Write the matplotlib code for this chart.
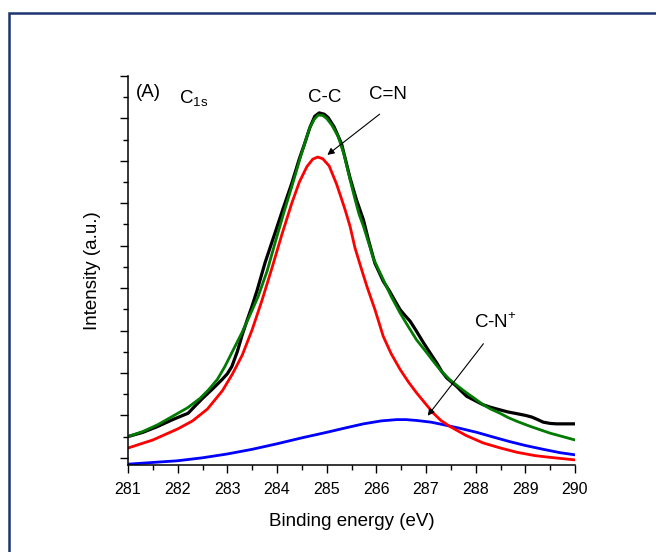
import matplotlib
matplotlib.use("Agg")
import matplotlib.pyplot as plt
from matplotlib.patches import Rectangle
from matplotlib.ticker import MultipleLocator

plt.rcParams['font.family'] = ['Liberation Sans', 'DejaVu Sans']

# Experimental data (black)
data_x = [281.00, 281.30, 281.60, 281.90, 282.21, 282.35, 282.50, 282.70, 282.89, 283.00,
          283.09, 283.20, 283.30, 283.40, 283.49, 283.60, 283.76, 283.96, 284.13, 284.30,
          284.45, 284.56, 284.66, 284.76, 284.85, 284.95, 285.03, 285.15, 285.30, 285.47,
          285.60, 285.74, 285.84, 285.97, 286.14, 286.27, 286.40, 286.48, 286.58, 286.68,
          286.80, 286.95, 287.10, 287.22, 287.32, 287.42, 287.52, 287.62, 287.72, 287.82,
          288.00, 288.15, 288.30, 288.49, 288.65, 288.83, 289.00, 289.13, 289.25, 289.36,
          289.50, 289.63, 290.00]
data_y = [0.50, 0.60, 0.74, 0.90, 1.05, 1.22, 1.40, 1.62, 1.84, 1.98,
          2.15, 2.50, 2.90, 3.25, 3.55, 3.95, 4.60, 5.30, 5.90, 6.48,
          7.05, 7.42, 7.78, 8.05, 8.13, 8.10, 8.02, 7.80, 7.40, 6.60,
          6.08, 5.61, 5.14, 4.59, 4.16, 3.92, 3.65, 3.49, 3.35, 3.22,
          3.00, 2.71, 2.44, 2.23, 2.03, 1.88, 1.78, 1.68, 1.56, 1.45,
          1.34, 1.25, 1.19, 1.13, 1.08, 1.04, 1.00, 0.96, 0.90, 0.84,
          0.81, 0.80, 0.80]

# Fit envelope (green)
fit_x = [281.00, 281.30, 281.60, 281.90, 282.20, 282.45, 282.62, 282.80, 282.95, 283.10,
         283.29, 283.45, 283.62, 283.80, 283.96, 284.13, 284.30, 284.45, 284.56, 284.66,
         284.75, 284.83, 284.92, 285.00, 285.10, 285.23, 285.35, 285.47, 285.57, 285.65,
         285.74, 285.85, 285.94, 286.05, 286.14, 286.30, 286.48, 286.65, 286.81, 287.00,
         287.15, 287.30, 287.48, 287.65, 287.82, 288.00, 288.15, 288.30, 288.49, 288.65,
         288.83, 289.10, 289.30, 289.50, 289.75, 290.00]
fit_y = [0.50, 0.62, 0.78, 0.98, 1.18, 1.40, 1.60, 1.85, 2.15, 2.50,
         2.94, 3.35, 3.80, 4.40, 5.06, 5.75, 6.40, 7.00, 7.42, 7.78,
         7.98, 8.08, 8.07, 8.00, 7.85, 7.58, 7.15, 6.56, 6.10, 5.75,
         5.46, 5.05, 4.70, 4.42, 4.20, 3.80, 3.41, 3.08, 2.78, 2.50,
         2.27, 2.05, 1.84, 1.68, 1.53, 1.38, 1.25, 1.15, 1.05, 0.95,
         0.86, 0.74, 0.66, 0.58, 0.50, 0.42]

# C=N component (red)
cn_x = [281.00, 281.50, 282.00, 282.30, 282.60, 282.90, 283.10, 283.30, 283.50, 283.70,
        283.90, 284.10, 284.30, 284.45, 284.60, 284.72, 284.82, 284.92, 285.05, 285.20,
        285.30, 285.37, 285.47, 285.57, 285.70, 285.81, 285.97, 286.14, 286.30, 286.48,
        286.65, 286.81, 287.00, 287.15, 287.30, 287.48, 287.80, 288.15, 288.50, 288.83,
        289.20, 289.50, 290.00]
cn_y = [0.23, 0.42, 0.68, 0.87, 1.15, 1.58, 1.97, 2.42, 3.02, 3.72,
        4.48, 5.27, 6.01, 6.50, 6.86, 7.04, 7.09, 7.05, 6.88, 6.45,
        6.10, 5.85, 5.46, 4.95, 4.45, 4.04, 3.50, 2.86, 2.45, 2.08,
        1.78, 1.53, 1.26, 1.05, 0.88, 0.74, 0.53, 0.35, 0.23, 0.13,
        0.05, 0.01, -0.05]

# C-N+ component (blue)
cnp_x = [281.00, 281.50, 282.00, 282.50, 283.00, 283.50, 284.00, 284.50, 285.00, 285.40,
         285.74, 286.10, 286.41, 286.60, 286.81, 287.10, 287.35, 287.70, 288.02, 288.35,
         288.69, 289.00, 289.36, 289.70, 290.00]
cnp_y = [-0.15, -0.11, -0.07, 0.00, 0.09, 0.20, 0.33, 0.47, 0.60, 0.71,
         0.80, 0.87, 0.90, 0.90, 0.88, 0.84, 0.78, 0.69, 0.60, 0.49,
         0.38, 0.29, 0.20, 0.12, 0.07]

x_ticks = [281, 282, 283, 284, 285, 286, 287, 288, 289, 290]

fig = plt.figure(figsize=(6.56, 5.52), dpi=100)
fig.patches.append(Rectangle((9/656, -0.1), 1.2, 1 - 13/552 + 0.1, transform=fig.transFigure,
                             fill=False, edgecolor='#1c3570', linewidth=1.8))
ax = fig.add_axes([128/656, 87/552, 447/656, 389/552])

lw = 2.0
ax.plot(cnp_x, cnp_y, color='#0000ff', lw=lw)
ax.plot(cn_x, cn_y, color='#ff0000', lw=lw)
ax.plot(data_x, data_y, color='black', lw=lw + 0.3)
ax.plot(fit_x, fit_y, color='#007a00', lw=lw)

ax.set_xlim(281, 290)
ax.set_ylim(-0.17, 9.0)
ax.set_xticks(x_ticks)
ax.set_xticklabels([str(t) for t in x_ticks])
ax.xaxis.set_minor_locator(MultipleLocator(0.5))
ax.yaxis.set_major_locator(MultipleLocator(1))
ax.yaxis.set_minor_locator(MultipleLocator(0.5))
ax.set_yticklabels([])
ax.tick_params(axis='both', which='major', direction='out', length=6, width=1, labelsize=11.5)
ax.tick_params(axis='both', which='minor', direction='out', length=3.5, width=1)
ax.tick_params(axis='x', pad=6)
for s in ['top', 'right']:
    ax.spines[s].set_visible(False)
for s in ['left', 'bottom']:
    ax.spines[s].set_linewidth(1.1)

ax.set_xlabel('Binding energy (eV)', fontsize=13.5, labelpad=12)
ax.set_ylabel('Intensity (a.u.)', fontsize=13.5, labelpad=10)

ax.text(281.15, 8.62, '(A)', fontsize=13.5, ha='left', va='center')
ax.text(282.33, 8.45, r'C$_{\mathregular{1s}}$', fontsize=13.5, ha='center', va='center')
ax.text(284.97, 8.5, 'C-C', fontsize=13.5, ha='center', va='center')
ax.text(286.23, 8.57, 'C=N', fontsize=13.5, ha='center', va='center')
ax.text(288.4, 3.2, r'C-N$^{\mathregular{+}}$', fontsize=13.5, ha='center', va='center')

ax.annotate('', xy=(284.97, 7.10), xytext=(286.11, 8.14),
            arrowprops=dict(arrowstyle='-|>', color='black', lw=0.8, mutation_scale=10))
ax.annotate('', xy=(287.0, 0.94), xytext=(288.19, 2.74),
            arrowprops=dict(arrowstyle='-|>', color='black', lw=0.8, mutation_scale=10))

fig.savefig('out.png', dpi=100)
